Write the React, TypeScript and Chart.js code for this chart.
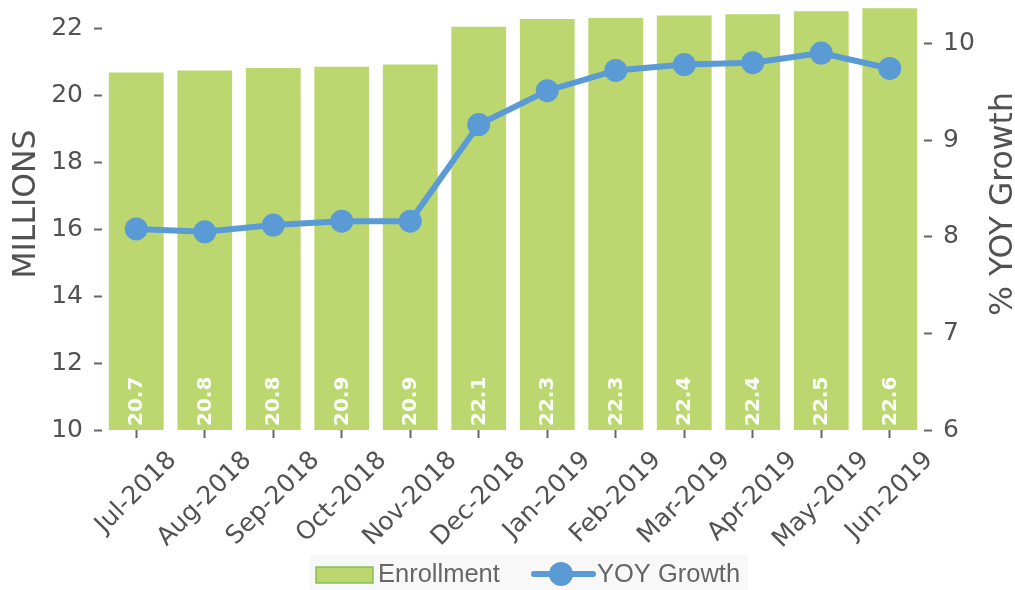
import React, { useEffect, useRef } from 'react';
import { Chart, registerables } from 'chart.js';

Chart.register(...registerables);

const categories = [
  'Jul-2018', 'Aug-2018', 'Sep-2018', 'Oct-2018', 'Nov-2018', 'Dec-2018',
  'Jan-2019', 'Feb-2019', 'Mar-2019', 'Apr-2019', 'May-2019', 'Jun-2019',
];
const enrollment = [20.70, 20.76, 20.83, 20.87, 20.94, 22.07, 22.30, 22.33, 22.40, 22.44, 22.53, 22.62];
const yoyGrowth = [8.08, 8.05, 8.12, 8.16, 8.16, 9.16, 9.51, 9.72, 9.78, 9.80, 9.90, 9.74];

const leftMin = 10;
const leftMax = 23.525;
const leftStep = 2;
const rightMin = 6;
const rightMax = 10.676;
const rightStep = 1;

const leftTitle = 'MILLIONS';
const rightTitle = '% YOY Growth';
const legendBar = 'Enrollment';
const legendLine = 'YOY Growth';

const BAR_COLOR = '#bdd770';
const LINE_COLOR = '#5b9bd5';
const TEXT_COLOR = '#525252';
const OFF = 22; // canvas is shifted up by this many px (top of plot is cropped)
const TICK_FONT = 25;

const customPlugin = {
  id: 'customDecor',
  afterDatasetsDraw(chart: any) {
    const ctx = chart.ctx;
    const meta = chart.getDatasetMeta(1);
    const base = chart.scales.y.getPixelForValue(leftMin);
    ctx.save();
    ctx.font = 'bold 20px "DejaVu Sans"';
    ctx.fillStyle = 'rgba(255,255,255,0.95)';
    ctx.textAlign = 'left';
    ctx.textBaseline = 'middle';
    meta.data.forEach((bar: any, i: number) => {
      ctx.save();
      ctx.translate(bar.x + 1, base - 4);
      ctx.rotate(-Math.PI / 2);
      ctx.fillText(enrollment[i].toFixed(1), 0, 0);
      ctx.restore();
    });
    ctx.restore();
  },
  afterDraw(chart: any) {
    const ctx = chart.ctx;
    const xs = chart.scales.x;
    const area = chart.chartArea;
    ctx.save();
    // x tick labels, rotated 45deg and centred on tick
    ctx.font = TICK_FONT + 'px "DejaVu Sans"';
    ctx.fillStyle = TEXT_COLOR;
    ctx.textAlign = 'center';
    ctx.textBaseline = 'middle';
    const top = area.bottom + 16;
    categories.forEach((c, i) => {
      const x = xs.getPixelForTick(i);
      const w = ctx.measureText(c).width;
      const h = TICK_FONT * 1.17;
      const bh = (w + h) * Math.SQRT1_2;
      ctx.save();
      ctx.translate(x, top + bh / 2);
      ctx.rotate(-Math.PI / 4);
      ctx.fillText(c, 0, 0);
      ctx.restore();
    });

    // axis titles
    const midY = (area.top + area.bottom) / 2;
    ctx.font = '31.5px "DejaVu Sans"';
    ctx.textBaseline = 'alphabetic';
    ctx.textAlign = 'center';
    ctx.save();
    ctx.translate(35, midY);
    ctx.rotate(-Math.PI / 2);
    ctx.fillText(leftTitle, 0, 0);
    ctx.restore();
    ctx.save();
    ctx.translate(1012, midY);
    ctx.rotate(-Math.PI / 2);
    ctx.fillText(rightTitle, 0, 0);
    ctx.restore();

    // legend
    ctx.fillStyle = '#f7f8f7';
    ctx.fillRect(310, 555 + OFF, 438, 40);
    ctx.fillStyle = BAR_COLOR;
    ctx.fillRect(316, 567 + OFF, 57, 16);
    ctx.strokeStyle = '#86bf55';
    ctx.lineWidth = 1.5;
    ctx.strokeRect(316, 567 + OFF, 57, 16);
    ctx.font = '25.5px "Liberation Sans"';
    ctx.fillStyle = '#666666';
    ctx.textAlign = 'left';
    ctx.textBaseline = 'alphabetic';
    ctx.fillText(legendBar, 378, 582 + OFF);
    ctx.strokeStyle = LINE_COLOR;
    ctx.lineWidth = 6;
    ctx.lineCap = 'round';
    ctx.beginPath();
    ctx.moveTo(534, 574 + OFF);
    ctx.lineTo(593, 574 + OFF);
    ctx.stroke();
    ctx.fillStyle = LINE_COLOR;
    ctx.beginPath();
    ctx.arc(561, 574 + OFF, 12, 0, Math.PI * 2);
    ctx.fill();
    ctx.fillStyle = '#666666';
    ctx.fillText(legendLine, 597, 582 + OFF);
    ctx.restore();
  },
};

const tickGrid = {
  display: true,
  drawOnChartArea: false,
  drawTicks: true,
  tickLength: 8,
  tickWidth: 2,
  tickColor: '#666666',
};

export default function App() {
  const ref = useRef<HTMLCanvasElement | null>(null);

  useEffect(() => {
    document.body.style.margin = '0';
    const canvas = ref.current;
    if (!canvas) return;
    const chart = new Chart(canvas, {
      type: 'bar',
      data: {
        labels: categories,
        datasets: [
          {
            type: 'line',
            label: legendLine,
            data: yoyGrowth,
            yAxisID: 'y1',
            borderColor: LINE_COLOR,
            backgroundColor: LINE_COLOR,
            borderWidth: 6,
            pointRadius: 11.5,
            pointHoverRadius: 11.5,
            pointBorderWidth: 0,
            tension: 0,
            fill: false,
            order: 1,
          } as any,
          {
            type: 'bar',
            label: legendBar,
            data: enrollment,
            yAxisID: 'y',
            backgroundColor: BAR_COLOR,
            borderWidth: 0,
            categoryPercentage: 1.0,
            barPercentage: 0.8,
            order: 2,
          } as any,
        ],
      },
      options: {
        animation: false,
        responsive: false,
        devicePixelRatio: 1,
        layout: { padding: 0, autoPadding: false },
        plugins: {
          legend: { display: false },
          tooltip: { enabled: false },
        },
        scales: {
          x: {
            type: 'category',
            offset: true,
            grid: { ...tickGrid, offset: false },
            border: { display: false },
            ticks: { display: false },
            afterFit: (s: any) => {
              s.height = 160;
              s.paddingLeft = 0;
              s.paddingRight = 0;
            },
          },
          y: {
            type: 'linear',
            position: 'left',
            min: leftMin,
            max: leftMax,
            grid: tickGrid,
            border: { display: false },
            ticks: {
              stepSize: leftStep,
              includeBounds: false,
              padding: 11,
              color: TEXT_COLOR,
              font: { family: 'DejaVu Sans', size: TICK_FONT },
            },
            afterFit: (s: any) => {
              s.width = 102;
              s.paddingTop = 0;
              s.paddingBottom = 0;
            },
          },
          y1: {
            type: 'linear',
            position: 'right',
            min: rightMin,
            max: rightMax,
            grid: tickGrid,
            border: { display: false },
            ticks: {
              stepSize: rightStep,
              includeBounds: false,
              padding: 11,
              color: TEXT_COLOR,
              font: { family: 'DejaVu Sans', size: TICK_FONT },
            },
            afterFit: (s: any) => {
              s.width = 91;
              s.paddingTop = 0;
              s.paddingBottom = 0;
            },
          },
        } as any,
      },
      plugins: [customPlugin],
    });
    return () => chart.destroy();
  }, []);

  return (
    <div
      style={{
        position: 'fixed',
        left: 0,
        top: 0,
        width: 1015,
        height: 590,
        overflow: 'hidden',
        background: '#ffffff',
      }}
    >
      <canvas
        ref={ref}
        width={1015}
        height={612}
        style={{ position: 'absolute', left: 0, top: -OFF, width: 1015, height: 612 }}
      />
    </div>
  );
}
